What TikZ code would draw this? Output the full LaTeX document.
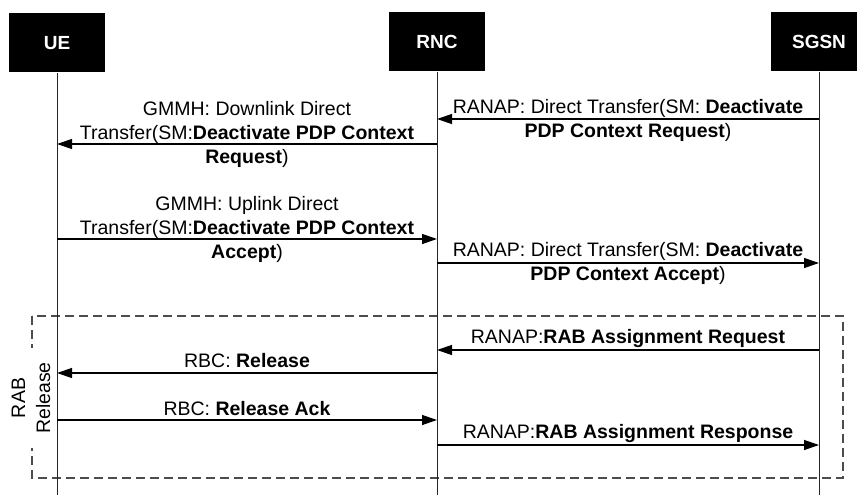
\documentclass[tikz,border=0pt]{standalone}
\usepackage{fontspec}
\setmainfont{Liberation Sans}
\usetikzlibrary{arrows.meta}
\begin{document}
\begin{tikzpicture}[x=1pt,y=-1pt,
  ent/.style={fill=black, text=white, font=\fontsize{19}{23}\selectfont\bfseries,
              inner sep=0pt, minimum width=96pt, minimum height=59pt},
  life/.style={line width=1pt, draw=black!85},
  msg/.style={line width=1.3pt, -{Triangle[length=15pt,width=10pt]}},
  lbl/.style={font=\fontsize{19.5}{24}\selectfont, align=center, inner sep=0pt, anchor=base},
  grp/.style={draw=black!70, dash pattern=on 9pt off 5pt, line width=1.2pt}]
\useasboundingbox (0,0) rectangle (857,495);
\clip (0,0) rectangle (857,495);

% entities
\node[ent] (ue)   at (57,43)  {UE};
\node[ent] (rnc)  at (437,42) {RNC};
\node[ent] (sgsn) at (819,42) {SGSN};

% group box
\draw[grp] (32,316) rectangle (843,478);
\node[rotate=90, align=center, fill=white, inner xsep=14pt, inner ysep=0pt,
      font=\fontsize{19.5}{25}\selectfont] (rab) at (31,398) {RAB\\Release};

% lifeline ends
\coordinate (ueEnd)   at (57,495);
\coordinate (rncEnd)  at (437,495);
\coordinate (sgsnEnd) at (819,495);
\draw[life] (ue.south) -- (ueEnd);
\draw[life] (rnc.south) -- (rncEnd);
\draw[life] (sgsn.south) -- (sgsnEnd);

% message levels
\coordinate (y1) at (0,119);
\coordinate (y2) at (0,144);
\coordinate (y3) at (0,239);
\coordinate (y4) at (0,263);
\coordinate (y5) at (0,350);
\coordinate (y6) at (0,373);
\coordinate (y7) at (0,420);
\coordinate (y8) at (0,445);

\draw[msg] (sgsn |- y1) -- (rnc |- y1);
\draw[msg] (rnc |- y2) -- (ue |- y2);
\draw[msg] (ue |- y3) -- (rnc |- y3);
\draw[msg] (rnc |- y4) -- (sgsn |- y4);
\draw[msg] (sgsn |- y5) -- (rnc |- y5);
\draw[msg] (rnc |- y6) -- (ue |- y6);
\draw[msg] (ue |- y7) -- (rnc |- y7);
\draw[msg] (rnc |- y8) -- (sgsn |- y8);

% labels (base anchor = baseline of last line)
\node[lbl] (t1) at (628,137.7) {RANAP: Direct Transfer(SM: \textbf{Deactivate}\\\textbf{PDP Context Request})};
\node[lbl] (t2) at (247,163.3) {GMMH: Downlink Direct\\Transfer(SM:\textbf{Deactivate PDP Context}\\\textbf{Request})};
\node[lbl] (t3) at (247,258)   {GMMH: Uplink Direct\\Transfer(SM:\textbf{Deactivate PDP Context}\\\textbf{Accept})};
\node[lbl] (t4) at (628,280)   {RANAP: Direct Transfer(SM: \textbf{Deactivate}\\\textbf{PDP Context Accept})};
\node[lbl] (t5) at (628,343.3) {RANAP:\textbf{RAB Assignment Request}};
\node[lbl] (t6) at (247,367.7) {RBC: \textbf{Release}};
\node[lbl] (t7) at (247,415)   {RBC: \textbf{Release Ack}};
\node[lbl] (t8) at (628,438.3) {RANAP:\textbf{RAB Assignment Response}};
\end{tikzpicture}
\end{document}
